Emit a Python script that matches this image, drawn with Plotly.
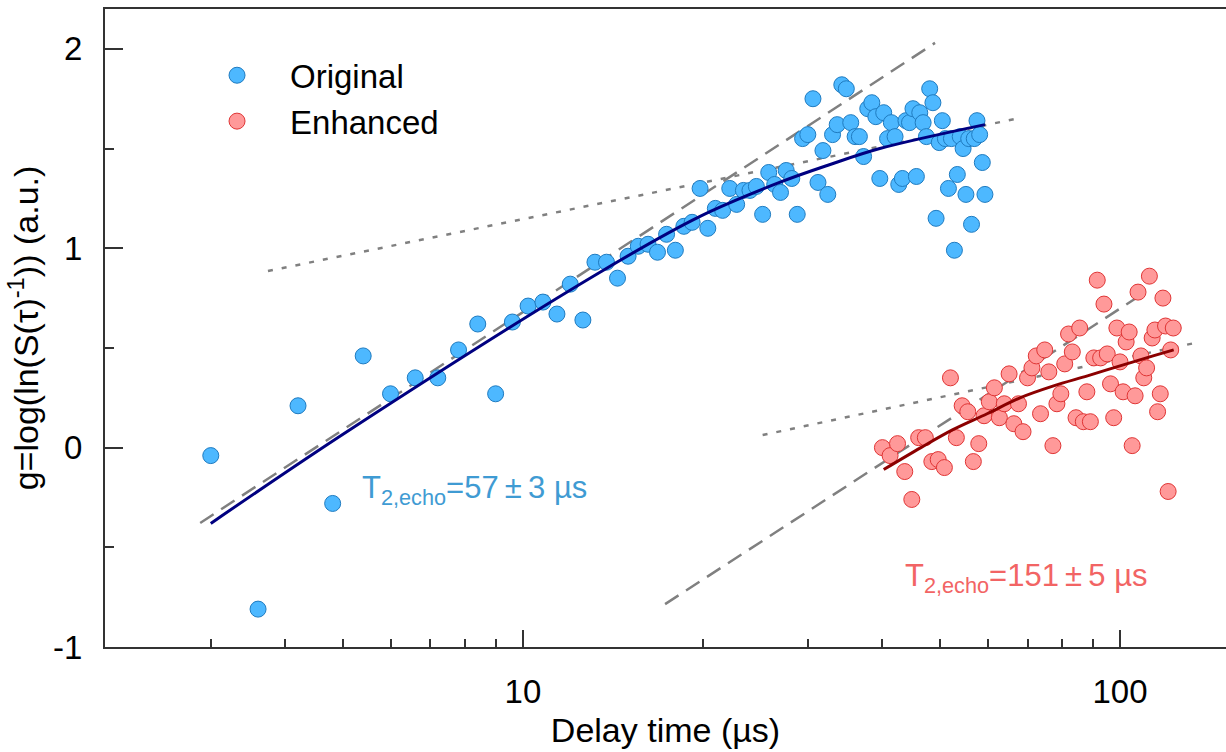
import numpy as np
import plotly.graph_objects as go

# ---------------- data ----------------
orig_tau = [3.0, 3.6, 4.2, 4.8, 5.4, 6.0, 6.6, 7.2, 7.8, 8.4, 9.0, 9.6, 10.2, 10.8, 11.4,
            12.0, 12.6, 13.2, 13.8, 14.4, 15.0, 15.6, 16.2, 16.8, 17.4, 18.0, 18.6, 19.2,
            19.8, 20.4, 21.0, 21.6, 22.2, 22.8, 23.4, 24.0, 24.6, 25.2, 25.8, 26.4, 27.0,
            27.6, 28.2, 28.8, 29.4, 30.0, 30.6, 31.2, 31.8, 32.4, 33.0, 33.6, 34.2, 34.8,
            35.4, 36.0, 36.6, 37.2, 37.8, 38.4, 39.0, 39.6, 40.2, 40.8, 41.4, 42.0, 42.6,
            43.2, 43.8, 44.4, 45.0, 45.6, 46.2, 46.8, 47.4, 48.0, 48.6, 49.2, 49.8, 50.4,
            51.0, 51.6, 52.2, 52.8, 53.4, 54.0, 54.6, 55.2, 55.8, 56.4, 57.0, 57.6, 58.2,
            58.8, 59.4]
orig_g = [-0.04, -0.81, 0.21, -0.28, 0.46, 0.27, 0.35, 0.35, 0.49, 0.62, 0.27, 0.63, 0.71,
          0.73, 0.67, 0.82, 0.64, 0.93, 0.93, 0.85, 0.96, 1.01, 1.02, 0.98, 1.07, 0.99, 1.11,
          1.13, 1.30, 1.10, 1.20, 1.19, 1.30, 1.22, 1.29, 1.29, 1.31, 1.17, 1.38, 1.32, 1.28,
          1.39, 1.35, 1.17, 1.55, 1.57, 1.75, 1.33, 1.49, 1.27, 1.57, 1.62, 1.82, 1.80, 1.63,
          1.56, 1.56, 1.46, 1.70, 1.73, 1.66, 1.35, 1.68, 1.55, 1.63, 1.56, 1.32, 1.35, 1.64,
          1.63, 1.70, 1.36, 1.68, 1.63, 1.56, 1.80, 1.73, 1.15, 1.53, 1.64, 1.55, 1.30, 1.55,
          0.99, 1.37, 1.56, 1.50, 1.27, 1.55, 1.12, 1.55, 1.64, 1.57, 1.43, 1.27]

enh_tau = [40.0, 41.2, 42.4, 43.6, 44.8, 46.0, 47.2, 48.4, 49.6, 50.8, 52.0, 53.2, 54.4,
           55.6, 56.8, 58.0, 59.2, 60.4, 61.6, 62.8, 64.0, 65.2, 66.4, 67.6, 68.8, 70.0,
           71.2, 72.4, 73.6, 74.8, 76.0, 77.2, 78.4, 79.6, 80.8, 82.0, 83.2, 84.4, 85.6,
           86.8, 88.0, 89.2, 90.4, 91.6, 92.8, 94.0, 95.2, 96.4, 97.6, 98.8, 100.0, 101.2,
           102.4, 103.6, 104.8, 106.0, 107.2, 108.4, 109.6, 110.8, 112.0, 113.2, 114.4,
           115.6, 116.8, 118.0, 119.2, 120.4, 121.6, 122.8]
enh_g = [0.00, -0.04, 0.02, -0.12, -0.26, 0.05, 0.05, -0.07, -0.06, -0.10, 0.35, 0.05, 0.21,
         0.18, -0.07, 0.02, 0.16, 0.23, 0.30, 0.15, 0.22, 0.37, 0.12, 0.22, 0.08, 0.35, 0.40,
         0.46, 0.17, 0.49, 0.38, 0.01, 0.22, 0.27, 0.42, 0.57, 0.48, 0.15, 0.60, 0.13, 0.28,
         0.13, 0.45, 0.84, 0.45, 0.72, 0.47, 0.32, 0.15, 0.60, 0.43, 0.28, 0.53, 0.58, 0.01,
         0.26, 0.78, 0.46, 0.35, 0.40, 0.86, 0.55, 0.59, 0.18, 0.27, 0.75, 0.61, -0.22, 0.49,
         0.60]

# fitted curves
orig_fit_tau = [3.0, 5.13, 13.46, 19.8, 26.9, 32.7, 39.6, 59.4]
orig_fit_g = [-0.38, 0.09, 0.88, 1.16, 1.33, 1.42, 1.50, 1.62]
enh_fit_tau = [40.2, 46.4, 52.5, 59.9, 68.0, 77.4, 88.2, 100.0, 113.6, 123.0]
enh_fit_g = [-0.11, 0.00, 0.09, 0.17, 0.25, 0.31, 0.36, 0.41, 0.46, 0.49]

# guide lines (end points)
orig_dash_tau = [2.88, 49.0]
orig_dash_g = [-0.378, 2.03]
orig_dot_tau = [3.74, 68.0]
orig_dot_g = [0.886, 1.653]
enh_dash_tau = [17.3, 110.9]
enh_dash_g = [-0.785, 0.785]
enh_dot_tau = [25.2, 136.0]
enh_dot_g = [0.063, 0.53]

x_major = [10, 100]
x_minor = [3, 4, 5, 6, 7, 8, 9, 20, 30, 40, 50, 60, 70, 80, 90]
y_major = [-1, 0, 1, 2]
y_minor = [-0.5, 0.5, 1.5]

label_orig = "T<sub>2,echo</sub>=57\u2009±\u20093 µs"
label_enh = "T<sub>2,echo</sub>=151\u2009±\u20095 µs"

# ---------------- figure ----------------
FONT = "Liberation Sans, Arial, sans-serif"
GRAY = "#808080"

fig = go.Figure()

for tx, ty, dash in [(orig_dash_tau, orig_dash_g, "16px,9px"),
                     (orig_dot_tau, orig_dot_g, "5px,9px"),
                     (enh_dash_tau, enh_dash_g, "16px,9px"),
                     (enh_dot_tau, enh_dot_g, "5px,9px")]:
    fig.add_trace(go.Scatter(x=tx, y=ty, mode="lines", showlegend=False,
                             line=dict(color=GRAY, width=2.5, dash=dash), hoverinfo="skip"))

fig.add_trace(go.Scatter(x=orig_tau, y=orig_g, mode="markers", name="Original",
                         marker=dict(size=16, color="#4db8ff",
                                     line=dict(color="#1f7bc0", width=1))))
fig.add_trace(go.Scatter(x=enh_tau, y=enh_g, mode="markers", name="Enhanced",
                         marker=dict(size=16, color="#ff9999",
                                     line=dict(color="#e03535", width=1))))

fig.add_trace(go.Scatter(x=orig_fit_tau, y=orig_fit_g, mode="lines", showlegend=False,
                         line=dict(color="#000080", width=3, shape="spline")))
fig.add_trace(go.Scatter(x=enh_fit_tau, y=enh_fit_g, mode="lines", showlegend=False,
                         line=dict(color="#8b0000", width=3, shape="spline")))

fig.add_annotation(x=np.log10(5.33), y=-0.213, xref="x", yref="y", text=label_orig,
                   showarrow=False, xanchor="left", yanchor="middle",
                   font=dict(family=FONT, size=31, color="#3f9bd3"))
fig.add_annotation(x=np.log10(43.3), y=-0.654, xref="x", yref="y", text=label_enh,
                   showarrow=False, xanchor="left", yanchor="middle",
                   font=dict(family=FONT, size=31, color="#f26464"))

axis_line = dict(showline=True, linecolor="#333333", linewidth=2, showgrid=False,
                 zeroline=False, ticks="inside", tickcolor="#333333", tickwidth=1.5)

fig.update_xaxes(type="log", range=[np.log10(1.995), np.log10(150.5)],
                 tickmode="array", tickvals=x_major, ticktext=[str(v) for v in x_major],
                 ticklen=17, mirror=True, ticklabelstandoff=14,
                 minor=dict(tickmode="array", tickvals=x_minor, ticklen=8, ticks="inside",
                            tickcolor="#333333", tickwidth=1.5),
                 title=dict(text="Delay time (µs)", font=dict(family=FONT, size=34, color="black"),
                            standoff=10),
                 tickfont=dict(family=FONT, size=33, color="black"), **axis_line)
fig.update_yaxes(range=[-1, 2.2], tickmode="array", tickvals=y_major,
                 ticktext=[str(v) for v in y_major], ticklen=18, mirror=False,
                 ticklabelstandoff=14,
                 minor=dict(tickmode="array", tickvals=y_minor, ticklen=9, ticks="inside",
                            tickcolor="#333333", tickwidth=1.5),
                 title=dict(text="g=log(ln(S(τ)<sup>-1</sup>)) (a.u.)",
                            font=dict(family=FONT, size=34, color="black"), standoff=4),
                 tickfont=dict(family=FONT, size=33, color="black"), **axis_line)

fig.update_layout(width=1226, height=752, margin=dict(l=105, r=0, t=9, b=105),
                  plot_bgcolor="white", paper_bgcolor="white",
                  font=dict(family=FONT, color="black"),
                  legend=dict(x=0.0705, y=0.94, xanchor="left", yanchor="top",
                              bgcolor="rgba(0,0,0,0)", itemwidth=96,
                              font=dict(family=FONT, size=33, color="black"),
                              tracegroupgap=0))

fig.write_html("out.html")
